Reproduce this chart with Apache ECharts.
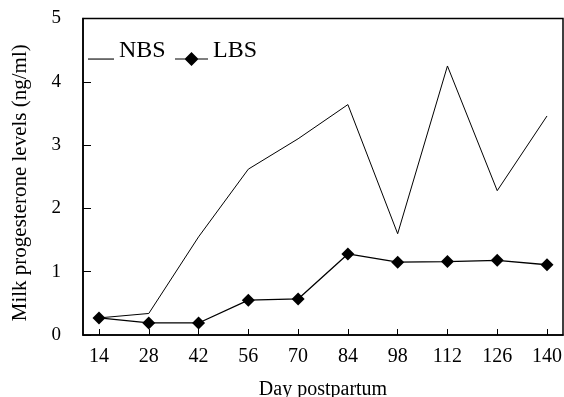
<!DOCTYPE html>
<html>
<head>
<meta charset="utf-8">
<script src="https://cdn.jsdelivr.net/npm/echarts@6/dist/echarts.min.js"></script>
<style>html,body{margin:0;padding:0;background:#fff;}#c{width:564px;height:397px;}</style>
</head>
<body>
<div id="c"></div>
<script>
const days = [14, 28, 42, 56, 70, 84, 98, 112, 126, 140];
const nbs = [0.27, 0.34, 1.55, 2.62, 3.1, 3.64, 1.6, 4.25, 2.28, 3.46];
const lbs = [0.27, 0.19, 0.19, 0.55, 0.57, 1.28, 1.15, 1.16, 1.18, 1.11];
const yTicks = [0, 1, 2, 3, 4, 5];

const font = 'Liberation Serif';
// legend icons: line drawn near the bottom of a taller box so that it sits low beside the text
const nbsIcon = 'path://M0,0 M0,22.5 L26,22.5 L26,23.6 L0,23.6 Z M0,30';
const lbsIcon = 'path://M0,0 M0,22.4 L33,22.4 L33,23.6 L0,23.6 Z M16.5,16 L23.5,23 L16.5,30 L9.5,23 Z';

const chart = echarts.init(document.getElementById('c'), null, {renderer: 'canvas'});
chart.setOption({
  backgroundColor: '#fff',
  animation: false,
  grid: {left: 83, right: 1, top: 18.5, bottom: 62, show: true, borderColor: '#000', borderWidth: 1.5,
         backgroundColor: 'transparent', containLabel: false, outerBoundsMode: 'none'},
  legend: [
    {data: [{name: 'NBS', icon: nbsIcon}], left: 88, top: 36, padding: 0, itemWidth: 26, itemHeight: 30, itemGap: 0,
     textStyle: {fontFamily: font, fontSize: 24, color: '#000'}},
    {data: [{name: 'LBS', icon: lbsIcon}], left: 175, top: 36, padding: 0, itemWidth: 33, itemHeight: 30, itemGap: 0,
     textStyle: {fontFamily: font, fontSize: 24, color: '#000'}}
  ],
  xAxis: {
    type: 'value', min: 9.5, max: 144.5,
    name: 'Day postpartum', nameLocation: 'middle', nameGap: 45,
    nameTextStyle: {fontFamily: font, fontSize: 20, color: '#000'},
    axisLine: {show: true, lineStyle: {color: '#000', width: 1.5}},
    axisTick: {show: true, inside: true, length: 6, customValues: days, lineStyle: {color: '#000', width: 1}},
    axisLabel: {customValues: days, fontFamily: font, fontSize: 20, color: '#000', margin: 12},
    splitLine: {show: false}
  },
  yAxis: {
    type: 'value', min: 0, max: 5, interval: 1,
    name: 'Milk progesterone levels (ng/ml)', nameLocation: 'middle', nameGap: 52,
    nameTextStyle: {fontFamily: font, fontSize: 21, color: '#000', padding: [0, 12, 0, 0]},
    axisLine: {show: true, lineStyle: {color: '#000', width: 1.5}},
    axisTick: {show: true, inside: true, length: 8, customValues: yTicks, lineStyle: {color: '#000', width: 1}},
    axisLabel: {customValues: yTicks, fontFamily: font, fontSize: 19, color: '#000', margin: 22},
    splitLine: {show: false}
  },
  series: [
    {name: 'NBS', type: 'line', data: days.map((d, i) => [d, nbs[i]]), symbol: 'none',
     lineStyle: {color: '#000', width: 1}, itemStyle: {color: '#000'}},
    {name: 'LBS', type: 'line', data: days.map((d, i) => [d, lbs[i]]), symbol: 'diamond', symbolSize: 13,
     lineStyle: {color: '#000', width: 1.3}, itemStyle: {color: '#000'}}
  ]
});
</script>
</body>
</html>
